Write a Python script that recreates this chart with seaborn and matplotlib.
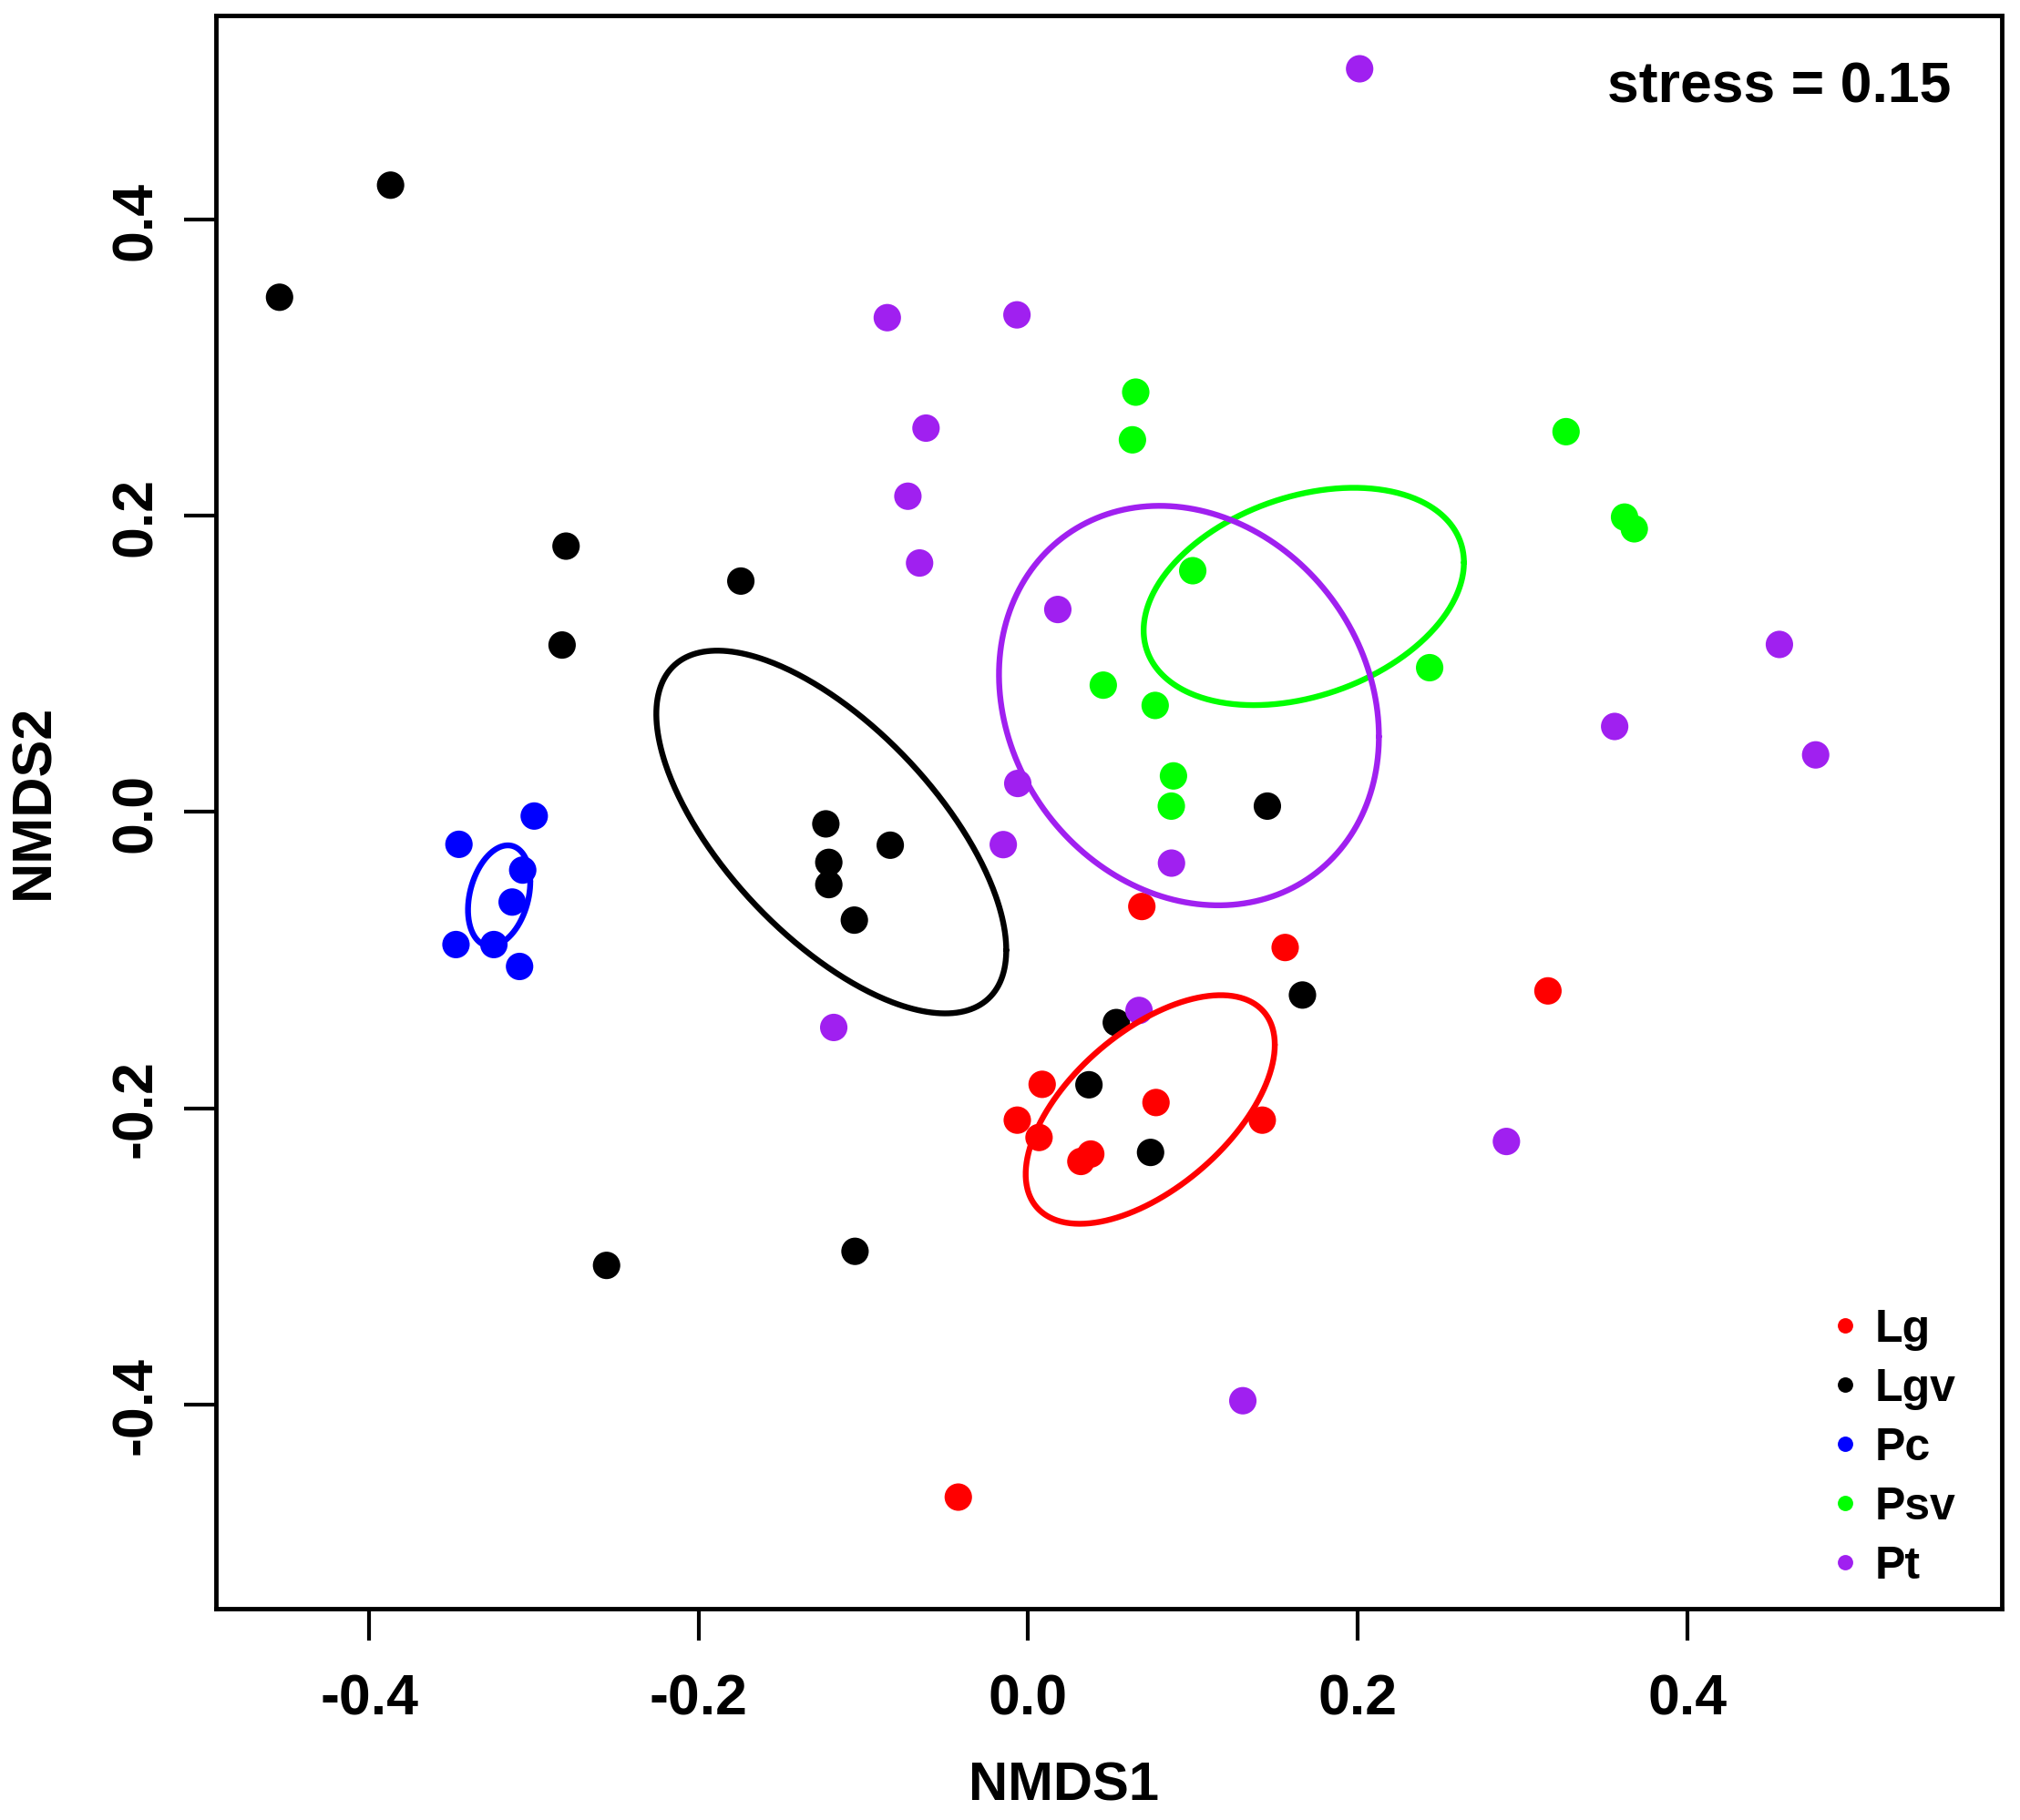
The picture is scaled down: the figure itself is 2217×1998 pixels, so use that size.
import numpy as np
import pandas as pd
import matplotlib
matplotlib.use("Agg")
import matplotlib.pyplot as plt
import seaborn as sns

sns.set_style("white")
plt.rcParams['font.family'] = ['Liberation Sans', 'DejaVu Sans']
plt.rcParams['font.weight'] = 'bold'
plt.rcParams['text.color'] = 'black'
plt.rcParams['axes.labelcolor'] = 'black'
plt.rcParams['xtick.color'] = 'black'
plt.rcParams['ytick.color'] = 'black'

# NMDS site scores per group
groups = ["Lg", "Lgv", "Pc", "Psv", "Pt"]
colors = ["#FF0000", "#000000", "#0000FF", "#00FF00", "#A020F0"]

lg_x = [0.069, 0.156, 0.3155, 0.0085, 0.0776, -0.0066, 0.0066, 0.1421, 0.032, 0.038, -0.0424]
lg_y = [-0.0638, -0.0915, -0.1208, -0.1839, -0.1962, -0.2081, -0.2198, -0.2081, -0.236, -0.231, -0.4627]

lgv_x = [-0.387, -0.4544, -0.2805, -0.2829, -0.1744, -0.1228, -0.0837, -0.121, -0.121,
         -0.1055, 0.1452, 0.1665, 0.0535, 0.0369, 0.0743, -0.2559, -0.1051]
lgv_y = [0.4234, 0.3477, 0.1796, 0.1128, 0.156, -0.008, -0.0224, -0.034, -0.049,
         -0.073, 0.004, -0.1236, -0.1422, -0.1842, -0.2299, -0.3062, -0.2967]

pc_x = [-0.2998, -0.3455, -0.3068, -0.3132, -0.3473, -0.3243, -0.3087]
pc_y = [-0.0027, -0.0218, -0.0392, -0.0608, -0.0895, -0.0895, -0.1043]

psv_x = [0.0653, 0.0633, 0.3265, 0.362, 0.3679, 0.0999, 0.2437, 0.0456, 0.0771, 0.0882, 0.0869]
psv_y = [0.2836, 0.2514, 0.2569, 0.1992, 0.1913, 0.163, 0.0975, 0.0857, 0.072, 0.0244, 0.004]

pt_x = [0.2012, -0.0068, 0.018, 0.456, 0.356, 0.478, -0.0063, 0.087, -0.0855, -0.062,
        -0.073, -0.0659, -0.0151, -0.118, 0.0673, 0.2903, 0.1303]
pt_y = [0.502, 0.3358, 0.1368, 0.1132, 0.0578, 0.0386, 0.0193, -0.0345, 0.3339, 0.2593,
        0.2133, 0.1682, -0.022, -0.1455, -0.134, -0.2225, -0.3976]

# ellipse per group: centre, spread in x / y, correlation
ell_cx = [0.0741, -0.1195, -0.3211, 0.1673, 0.0976]
ell_cy = [-0.2009, -0.0135, -0.0565, 0.1456, 0.0719]
ell_sx = [0.0756, 0.1062, 0.0189, 0.0972, 0.1153]
ell_sy = [0.0772, 0.1225, 0.034, 0.0734, 0.1349]
ell_r = [0.566, -0.651, 0.28, 0.312, -0.155]

ticks = [-0.4, -0.2, 0.0, 0.2, 0.4]
tick_labels = ["-0.4", "-0.2", "0.0", "0.2", "0.4"]

xs = [lg_x, lgv_x, pc_x, psv_x, pt_x]
ys = [lg_y, lgv_y, pc_y, psv_y, pt_y]
df = pd.concat([pd.DataFrame({"NMDS1": x, "NMDS2": y, "group": g})
                for g, x, y in zip(groups, xs, ys)], ignore_index=True)

fig = plt.figure(figsize=(22.17, 19.99), dpi=100)
ax = fig.add_axes([0.1069, 0.1161, 0.8841, 0.8749])

sns.scatterplot(data=df, x="NMDS1", y="NMDS2", hue="group", hue_order=groups,
                palette=dict(zip(groups, colors)), s=470, linewidth=0, ax=ax, zorder=2)

# ellipses drawn on top of the points, like the original
t = np.linspace(0, 2 * np.pi, 400)
for cx, cy, sx, sy, r, c in zip(ell_cx, ell_cy, ell_sx, ell_sy, ell_r, colors):
    ex = cx + sx * np.cos(t)
    ey = cy + sy * (r * np.cos(t) + np.sqrt(1 - r ** 2) * np.sin(t))
    ax.plot(ex, ey, color=c, lw=4.6, zorder=3)

ax.set_xlim(-0.493, 0.591)
ax.set_ylim(-0.538, 0.538)
ax.set_xticks(ticks)
ax.set_xticklabels(tick_labels)
ax.set_yticks(ticks)
ax.set_yticklabels(tick_labels)
ax.tick_params(axis='both', direction='out', length=25, width=3, labelsize=45,
               bottom=True, left=True, colors='black')
ax.tick_params(axis='x', pad=25)
ax.tick_params(axis='y', pad=17, labelrotation=90)
for lbl in ax.get_yticklabels():
    lbl.set_va('center')
    lbl.set_fontweight('bold')
for lbl in ax.get_xticklabels():
    lbl.set_fontweight('bold')

for sp in ax.spines.values():
    sp.set_linewidth(3.5)
    sp.set_color('black')

ax.set_xlabel("NMDS1", fontsize=43, fontweight='bold')
ax.set_ylabel("NMDS2", fontsize=44, fontweight='bold')
ax.xaxis.set_label_coords(0.4746, -0.1109)
ax.xaxis.label.set_va('center')
ax.yaxis.set_label_coords(-0.1014, 0.5073)
ax.yaxis.label.set_va('center')

ax.text(0.9717, 0.9457, "stress = 0.15", transform=ax.transAxes, ha='right', va='baseline',
        fontsize=45, fontweight='bold')

handles, labels = ax.get_legend_handles_labels()
ax.legend(handles, labels, loc='center left', bbox_to_anchor=(0.906, 0.101),
          frameon=False, fontsize=36, markerscale=0.56, handlelength=0.5,
          handletextpad=0.4, labelspacing=0.38, borderpad=0, borderaxespad=0)

fig.savefig("out.png", dpi=100)
